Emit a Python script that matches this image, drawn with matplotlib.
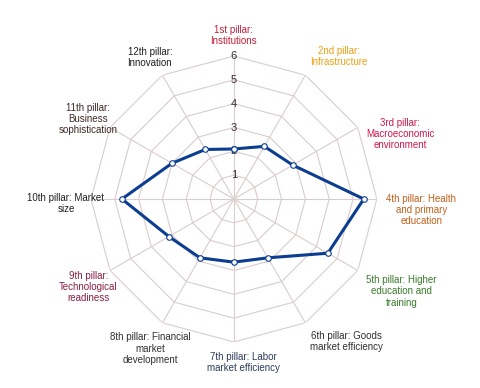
import numpy as np
import matplotlib
matplotlib.use('Agg')
import matplotlib.pyplot as plt

plt.rcParams['font.family'] = ['Liberation Sans', 'DejaVu Sans']

# 12 pillars, clockwise from the top
pillars = ['1st pillar:\nInstitutions',
           '2nd pillar:\nInfrastructure',
           '3rd pillar:\nMacroeconomic\nenvironment',
           '4th pillar: Health\nand primary\neducation',
           '5th pillar: Higher\neducation and\ntraining',
           '6th pillar: Goods\nmarket efficiency',
           '7th pillar: Labor\nmarket efficiency',
           '8th pillar: Financial\nmarket\ndevelopment',
           '9th pillar:\nTechnological\nreadiness',
           '10th pillar: Market\nsize',
           '11th pillar:\nBusiness\nsophistication',
           '12th pillar:\nInnovation']
scores = [2.1, 2.55, 2.85, 5.45, 4.55, 2.85, 2.65, 2.85, 3.15, 4.7, 3.0, 2.4]
levels = [1, 2, 3, 4, 5, 6]
label_colors = ['#c0203c', '#f0a010', '#d0184c', '#c0601a', '#3a7a2a', '#303030',
                '#2c3c5c', '#303030', '#8c2040', '#202020', '#402828', '#202020']

n = len(pillars)
angles = np.arange(n) * 2 * np.pi / n
closed = np.append(angles, angles[0])

fig = plt.figure(figsize=(4.81, 3.88), dpi=100)
ax = fig.add_axes([0.189, 0.1186, 0.5946, 0.737], projection='polar')
ax.set_theta_zero_location('N')
ax.set_theta_direction(-1)
ax.set_ylim(0, 6)
ax.grid(False)
ax.spines['polar'].set_visible(False)
ax.set_xticks([])
ax.set_yticks([])

grid_col = '#dacccc'
# polygon rings
for lv in levels:
    ax.plot(closed, [lv] * (n + 1), color=grid_col, lw=0.8, zorder=1)
# spokes
for a in angles:
    ax.plot([a, a], [0, levels[-1]], color=grid_col, lw=0.8, zorder=1)

# radial tick labels on the top spoke
for lv in levels:
    ax.text(0, lv, str(lv), ha='center', va='center', fontsize=8, color='#333333', zorder=2)

# data line
ax.plot(closed, np.append(scores, scores[0]), color='#0b3d91', lw=2.2, zorder=3,
        marker='o', ms=4, mfc='white', mec='#0b3d91', mew=0.8)

# pillar labels
for a, lab, c in zip(angles, pillars, label_colors):
    s, co = np.sin(a), np.cos(a)
    dx, dy = 0, 0
    if s > 0.1:
        r, ha = 6.4, 'left'
        if co > 0.6:
            va = 'bottom'
        elif co < -0.4:
            va = 'top'
        else:
            va, dy = 'center', -8
    elif s < -0.1:
        r, ha, va, dy = 7.05, 'center', 'center', -3
    else:
        r, ha = 6.4, 'center'
        va = 'bottom' if co > 0 else 'top'
        if co < 0:
            dx = 7
    ax.annotate(lab, xy=(a, r), xytext=(dx, dy), textcoords='offset points',
                ha=ha, va=va, multialignment='center', fontsize=7,
                color=c, linespacing=1.15, annotation_clip=False)

fig.savefig('out.png', dpi=100, facecolor='white')
